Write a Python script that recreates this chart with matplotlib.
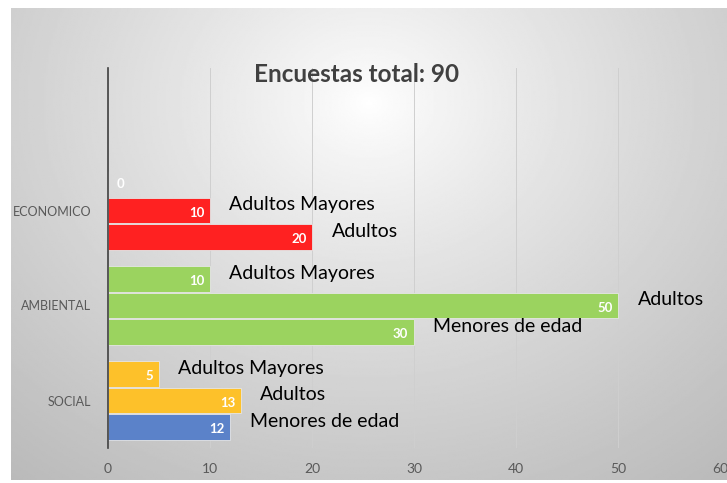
import matplotlib.pyplot as plt
import numpy as np

plt.rcParams['font.family'] = ['Lato', 'DejaVu Sans']

# data: one row per position inside each group (top, middle, bottom)
categories = ['SOCIAL', 'AMBIENTAL', 'ECONOMICO']
top_vals = [5, 10, 0]
mid_vals = [13, 50, 10]
bot_vals = [12, 30, 20]
top_names = ['Adultos Mayores', 'Adultos Mayores', '']
mid_names = ['Adultos', 'Adultos', 'Adultos Mayores']
bot_names = ['Menores de edad', 'Menores de edad', 'Adultos']
x_ticks = [0, 10, 20, 30, 40, 50, 60]
title = 'Encuestas total: 90'

red = '#FF2121'
green = '#9BD35F'
yellow = '#FDC12A'
blue = '#5B82C9'
top_colors = [yellow, green, red]
mid_colors = [yellow, green, red]
bot_colors = [blue, green, red]

fig = plt.figure(figsize=(7.27, 4.83), dpi=100)
fig.patch.set_facecolor('white')

# gradient background
bg = fig.add_axes([11/727, 3/483, 716/727, 472/483])
bg.set_axis_off()
gx, gy = np.meshgrid(np.linspace(0, 1, 400), np.linspace(0, 1, 300))
r = np.sqrt(((gx - 0.5) / 0.9) ** 2 + ((gy - 0.8) / 1.15) ** 2)
shade = np.clip(1 - 0.3 * r ** 0.85, 0, 1)
bg.imshow(shade, cmap='gray', vmin=0, vmax=1, origin='lower',
          extent=[0, 1, 0, 1], aspect='auto')

ax = fig.add_axes([108/727, 35/483, 612/727, 380/483])
ax.patch.set_alpha(0)

pos = np.arange(len(categories))
h = 0.27
off = 0.28

rows = [(top_vals, top_names, top_colors, off),
        (mid_vals, mid_names, mid_colors, 0),
        (bot_vals, bot_names, bot_colors, -off)]

for vals, names, cols, o in rows:
    ax.barh(pos + o, vals, height=h, color=cols, edgecolor='#E6E6E6',
            linewidth=0.6, zorder=3)
    for y, v, n in zip(pos + o, vals, names):
        if v == 0:
            ax.annotate(str(v), (v, y), xytext=(6, 0), textcoords='offset points',
                        ha='left', va='center', color='white', fontsize=9.5,
                        fontweight='bold', zorder=4)
        else:
            ax.annotate(str(v), (v, y), xytext=(-4, -1.5), textcoords='offset points',
                        ha='right', va='center', color='white', fontsize=9.5,
                        fontweight='bold', zorder=4)
        if n:
            ax.annotate(n, (v, y), xytext=(14, 4), textcoords='offset points',
                        ha='left', va='center', color='black', fontsize=14,
                        zorder=4)

ax.set_xlim(0, 60)
ax.set_ylim(-0.5, 3.5)
ax.set_xticks(x_ticks)
ax.set_yticks(pos)
ax.set_yticklabels(categories)
ax.tick_params(axis='both', length=0, colors='#595959')
ax.tick_params(axis='x', pad=11, labelsize=10)
ax.tick_params(axis='y', pad=12, labelsize=9)
ax.grid(axis='x', color='#CFCFCF', linewidth=0.7, zorder=0)
for s in ['top', 'right', 'bottom']:
    ax.spines[s].set_visible(False)
ax.spines['left'].set_color('#404040')
ax.spines['left'].set_linewidth(1.2)
ax.spines['left'].set_zorder(5)

fig.text(357/727, 1 - 75/483, title, ha='center', va='center',
         fontsize=17.5, fontweight='bold', color='#404040')

fig.savefig('out.png', dpi=100)
